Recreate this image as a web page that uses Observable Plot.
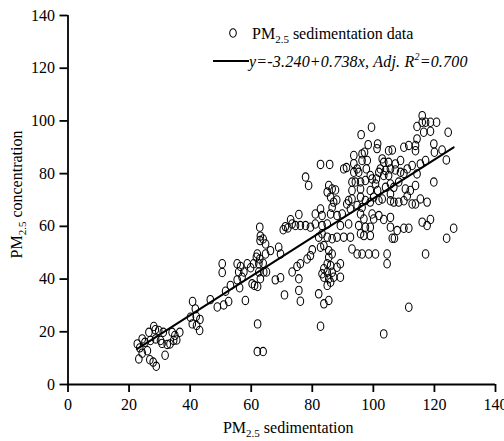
<!DOCTYPE html>
<html>
<head>
<meta charset="utf-8">
<script src="https://cdn.jsdelivr.net/npm/d3@7"></script>
<script src="https://cdn.jsdelivr.net/npm/@observablehq/plot@0.6"></script>
<style>
  html, body { margin: 0; padding: 0; background: #fff; }
  #chart { width: 504px; height: 441px; }
  #chart svg, #chart svg text, #chart svg tspan { font-family: "Liberation Serif", serif !important; }
</style>
</head>
<body>
<div id="chart"></div>
<script>
// ---- data ----
const sedimentation = [
  22.7,23.5,24.3,23.2,24.3,25.2,26.0,26.8,27.9,28.9,26.5,27.0,28.1,28.6,28.7,29.7,30.3,31.2,30.8,31.8,32.5,33.4,34.1,34.6,35.6,36.6,35.0,
  40.8,41.7,40.1,40.7,42.1,43.2,43.1,42.0,46.6,48.9,51.0,52.6,51.6,53.2,50.5,50.5,
  55.4,56.5,55.9,57.6,58.7,59.8,55.4,57.0,56.2,58.1,60.8,62.5,63.9,61.7,62.8,62.0,64.7,66.3,64.7,62.9,63.9,62.8,63.0,61.1,62.1,64.1,65.0,63.0,62.1,62.0,63.9,62.5,60.3,
  67.9,69.6,69.0,69.6,70.5,71.2,72.0,72.9,74.5,75.6,73.4,75.0,75.6,70.9,75.6,76.1,73.4,76.1,77.8,79.4,77.8,78.8,79.4,78.3,76.1,80.0,
  81.0,83.2,82.7,81.0,83.2,84.9,86.0,88.1,89.8,89.2,91.9,82.1,83.2,84.9,86.5,88.1,90.3,92.5,82.7,83.8,85.4,86.5,85.4,84.9,86.0,83.8,83.2,84.9,86.5,88.1,89.2,
  83.8,85.4,87.0,89.2,84.9,86.0,82.1,83.8,85.4,82.7,86.5,84.9,86.0,88.0,85.4,86.5,87.6,82.7,85.7,90.3,91.2,93.6,94.7,93.6,95.2,97.7,96.3,98.0,93.6,97.1,96.3,98.3,96.0,99.4,101.4,
  93.0,94.1,95.8,97.4,99.6,101.0,101.8,93.0,93.0,91.9,95.8,95.8,97.4,99.0,100.1,101.4,94.7,96.3,101.8,99.0,92.5,95.8,96.9,99.6,101.8,95.2,97.4,99.0,95.8,96.9,99.0,
  93.0,94.7,96.3,98.5,100.7,104.5,104.5,117.1,87.0,91.3,100.1,103.4,105.6,105.6,106.2,106.9,107.8,110.0,111.6,116.0,117.6,118.7,126.3,124.0,103.4,111.6,
  102.9,105.6,106.7,108.3,110.0,112.7,113.8,115.4,117.6,105.6,111.1,
  116.0,116.0,117.1,118.7,120.7,114.3,116.5,118.7,124.5,114.3,113.8,101.2,110.0,111.6,113.8,105.0,106.2,119.8,120.0,122.5,123.9,
  102.9,103.4,105.0,107.2,108.9,111.1,112.7,115.4,117.1,102.3,104.0,105.6,107.2,108.9,110.0,99.0,103.4,105.0,114.3,119.8,
  100.7,104.0,105.6,106.7,108.3,110.5,112.1,113.8
];
const concentration = [
  15.4,13.9,11.9,9.7,17.3,16.0,12.8,9.4,8.5,6.9,19.8,16.7,22.0,20.8,17.3,20.5,16.7,19.8,15.6,11.1,15.2,15.4,19.8,16.7,16.9,19.8,18.6,
  31.5,28.7,25.5,23.0,22.4,24.7,20.5,25.8,32.2,29.4,30.2,31.5,35.4,37.6,45.8,42.5,
  45.8,44.8,42.7,42.7,45.8,44.3,39.7,40.7,36.7,31.9,45.8,45.8,46.0,48.3,47.6,49.5,49.5,50.8,53.3,54.6,55.2,59.7,56.3,37.6,37.2,42.7,42.7,40.1,23.0,12.5,12.5,42.7,38.2,
  39.7,40.5,52.1,49.5,58.7,59.9,59.4,62.5,60.3,64.5,42.7,44.8,40.1,34.0,35.7,31.6,60.9,60.3,60.3,59.7,78.7,75.5,48.9,47.6,45.8,51.1,
  64.7,64.1,66.6,60.9,60.3,60.9,64.7,64.1,64.7,60.3,60.9,55.9,57.2,55.9,55.3,55.9,55.9,55.9,52.1,52.7,50.8,49.5,48.3,45.8,45.1,43.9,42.0,42.6,42.6,44.5,45.8,
  40.7,40.1,40.7,40.7,37.6,38.8,34.4,30.6,31.9,22.1,67.2,73.0,71.1,70.0,75.5,74.2,73.8,83.5,83.5,81.8,82.3,83.8,81.8,80.5,80.5,81.8,85.0,85.0,86.9,88.1,87.5,91.0,94.8,97.6,91.3,
  76.8,76.8,76.8,77.4,78.0,78.0,80.5,73.6,70.4,69.8,74.2,71.1,69.8,73.6,71.1,73.6,67.9,67.2,69.8,69.2,66.6,64.7,62.8,64.7,64.1,60.3,59.7,59.7,57.2,56.5,56.5,
  51.4,49.5,49.5,49.5,49.5,49.5,45.8,49.5,69.2,68.5,62.8,62.6,63.4,59.7,55.5,55.5,58.4,59.3,59.3,61.6,60.3,62.6,59.3,55.5,19.2,29.3,
  70.4,69.7,69.2,69.2,69.7,68.5,68.5,70.4,69.2,72.3,71.5,
  102.0,99.5,99.5,99.5,99.5,97.9,95.7,96.1,95.7,93.2,90.7,89.5,90.0,90.7,88.7,88.7,89.0,91.3,88.1,89.0,85.2,
  85.6,84.3,84.3,83.7,85.0,81.8,83.1,83.7,85.0,81.8,81.2,81.8,81.4,80.5,80.1,79.3,79.3,79.3,79.9,76.8,
  76.1,74.8,76.1,74.8,76.8,74.2,73.6,75.5
];
const intercept = -3.240;
const slope = 0.738;
const adjR2 = 0.700;
const xTicks = [0, 20, 40, 60, 80, 100, 120, 140];
const yTicks = [0, 20, 40, 60, 80, 100, 120, 140];

const points = sedimentation.map((x, i) => ({x, y: concentration[i]}));
const [x0, x1] = d3.extent(sedimentation);
const fit = [x0, x1].map(x => ({x, y: intercept + slope * x}));

// ellipse-shaped open marker
const ellipse = {
  draw(ctx) {
    const rx = 3.3, ry = 4.2, k = 0.5523;
    ctx.moveTo(rx, 0);
    ctx.bezierCurveTo(rx, ry * k, rx * k, ry, 0, ry);
    ctx.bezierCurveTo(-rx * k, ry, -rx, ry * k, -rx, 0);
    ctx.bezierCurveTo(-rx, -ry * k, -rx * k, -ry, 0, -ry);
    ctx.bezierCurveTo(rx * k, -ry, rx, -ry * k, rx, 0);
    ctx.closePath();
  }
};

const FONT = "Liberation Serif, serif";

const chart = Plot.plot({
  width: 504,
  height: 441,
  marginLeft: 67.5,
  marginRight: 9,
  marginTop: 15,
  marginBottom: 57,
  x: {domain: [0, 140]},
  y: {domain: [0, 140]},
  style: {fontFamily: FONT, fontSize: "16px", background: "white", color: "black", overflow: "visible"},
  marks: [
    Plot.axisX({ticks: xTicks, tickSize: 8, tickPadding: 6, strokeWidth: 1.8, label: null, fontSize: 16, fontFamily: FONT}),
    Plot.axisY({ticks: yTicks, tickSize: 8, tickPadding: 5, strokeWidth: 1.8, label: null, fontSize: 16, fontFamily: FONT}),
    Plot.ruleY([0], {stroke: "black", strokeWidth: 1.8}),
    Plot.ruleX([0], {stroke: "black", strokeWidth: 1.8}),
    Plot.dot(points, {x: "x", y: "y", symbol: ellipse, r: 4, stroke: "black", fill: "none", strokeWidth: 1.05}),
    Plot.line(fit, {x: "x", y: "y", stroke: "black", strokeWidth: 2})
  ]
});
document.getElementById("chart").appendChild(chart);

// ---- axis titles & legend (text with subscripts) ----
const svg = d3.select(chart);
svg.attr("font-family", FONT);
svg.selectAll("text").attr("font-family", FONT).style("font-family", FONT);
const sx = chart.scale("x"), sy = chart.scale("y");
const g = svg.append("g").attr("font-family", FONT).attr("fill", "black").attr("text-anchor", "start");

function pmLabel(sel, rest) {
  sel.append("tspan").text("PM");
  sel.append("tspan").attr("font-size", "11px").attr("dy", "4").text("2.5");
  sel.append("tspan").attr("dy", "-4").text(rest);
}

// x title
const xt = g.append("text")
  .attr("x", (sx.range[0] + sx.range[1]) / 2 + 7)
  .attr("y", 433)
  .attr("text-anchor", "middle")
  .attr("font-size", "16px");
pmLabel(xt, " sedimentation");

// y title
const yt = g.append("text")
  .attr("transform", `translate(22, ${(sy.range[0] + sy.range[1]) / 2 - 5}) rotate(-90)`)
  .attr("text-anchor", "middle")
  .attr("font-size", "16px");
pmLabel(yt, " concentration");

// legend
g.append("path")
  .attr("d", (() => { const p = d3.path(); ellipse.draw(p); return p.toString(); })())
  .attr("transform", "translate(233,33)")
  .attr("fill", "none").attr("stroke", "black").attr("stroke-width", 1.05);
const l1 = g.append("text").attr("x", 252).attr("y", 39).attr("font-size", "16px").attr("text-anchor", "start");
pmLabel(l1, " sedimentation data");

g.append("line").attr("x1", 213).attr("x2", 249).attr("y1", 61).attr("y2", 61)
  .attr("stroke", "black").attr("stroke-width", 1.8);
const l2 = g.append("text").attr("x", 249).attr("y", 67).attr("font-size", "16px")
  .attr("font-style", "italic").attr("text-anchor", "start").attr("letter-spacing", "0.2px");
l2.append("tspan").text(`y=${intercept.toFixed(3)}+${slope.toFixed(3)}x, Adj. R`);
l2.append("tspan").attr("font-size", "10px").attr("dy", "-7").text("2");
l2.append("tspan").attr("dy", "7").text(`=${adjR2.toFixed(3)}`);
</script>
</body>
</html>
